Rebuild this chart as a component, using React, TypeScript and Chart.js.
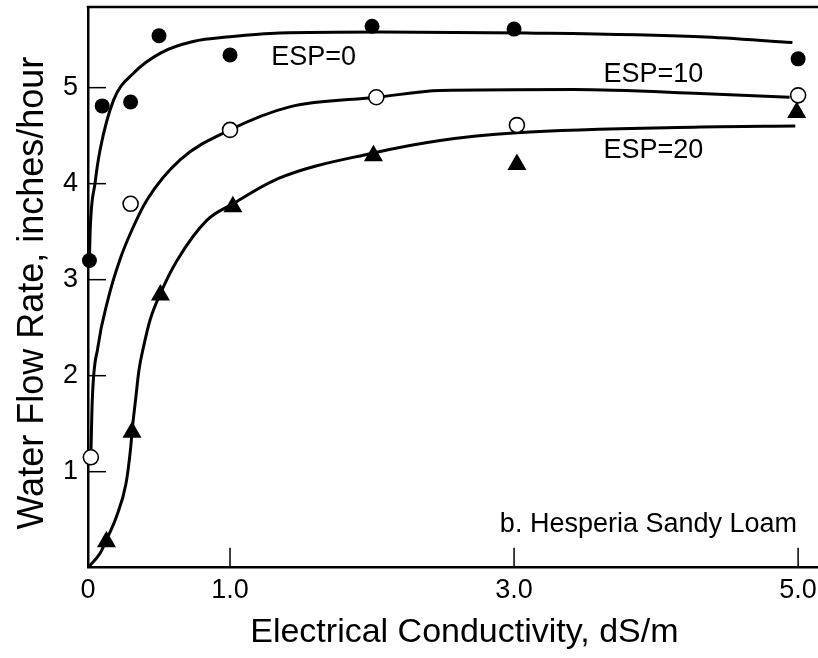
import React, { useEffect, useRef } from 'react';
import { Chart, registerables } from 'chart.js';

Chart.register(...registerables);

// Measured points
const ec0 = [0.01, 0.1, 0.3, 0.5, 1.0, 2.0, 3.0, 5.0];
const flow0 = [3.2, 4.81, 4.85, 5.54, 5.34, 5.64, 5.61, 5.3];
const ec10 = [0.02, 0.3, 1.0, 2.03, 3.02, 5.0];
const flow10 = [1.15, 3.79, 4.56, 4.9, 4.61, 4.92];
const ec20 = [0.13, 0.31, 0.51, 1.02, 2.01, 3.02, 4.99];
const flow20 = [0.27, 1.41, 2.84, 3.76, 4.29, 4.2, 4.74];

// Fitted curves
const fitEc0 = [0.01, 0.015, 0.05, 0.085, 0.18, 0.32, 0.51, 0.74, 1.0, 1.35, 2.06, 3.09, 4.31, 4.96];
const fitFlow0 = [3.2, 3.5, 4.01, 4.35, 4.87, 5.15, 5.36, 5.48, 5.53, 5.57, 5.58, 5.57, 5.53, 5.47];
const fitEc10 = [0.02, 0.03, 0.07, 0.14, 0.225, 0.31, 0.415, 0.65, 1.0, 1.42, 2.04, 2.48, 3.42, 4.31, 4.94];
const fitFlow10 = [1.15, 1.74, 2.3, 2.79, 3.21, 3.52, 3.83, 4.25, 4.56, 4.8, 4.9, 4.97, 4.98, 4.94, 4.9];
const fitEc20 = [0, 0.085, 0.13, 0.2, 0.268, 0.299, 0.313, 0.335, 0.359, 0.391, 0.437, 0.514, 0.627, 0.838, 1.02, 1.35, 2.01, 2.48, 3.02, 4.31, 4.98];
const fitFlow20 = [0, 0.15, 0.29, 0.53, 0.88, 1.23, 1.46, 1.75, 2.06, 2.3, 2.58, 2.87, 3.2, 3.62, 3.79, 4.06, 4.32, 4.45, 4.53, 4.59, 4.6];

// Axes
const xTickValues = [0, 1, 3, 5];
const xTickLabels = ['0', '1.0', '3.0', '5.0'];
const yTickValues = [1, 2, 3, 4, 5];
const yTickLabels = ['1', '2', '3', '4', '5'];
const xMax = 5.14;
const yMax = 5.84;

const xTitle = 'Electrical Conductivity, dS/m';
const yTitle = 'Water Flow Rate, inches/hour';

// Text annotations (anchored in data coordinates)
const annotations = [
  { text: 'ESP=0', x: 1.29, y: 5.24, size: 27 },
  { text: 'ESP=10', x: 3.63, y: 5.06, size: 27 },
  { text: 'ESP=20', x: 3.63, y: 4.27, size: 27 },
  { text: 'b. Hesperia Sandy Loam', x: 2.9, y: 0.37, size: 27 },
];

const FONT = '"Liberation Sans", Arial, Helvetica, sans-serif';

const zip = (xs: number[], ys: number[]) => xs.map((x, i) => ({ x, y: ys[i] }));

const noPad = (s: any) => {
  s.paddingTop = 0;
  s.paddingBottom = 0;
  s.paddingLeft = 0;
  s.paddingRight = 0;
};

const framePlugin = {
  id: 'frame',
  beforeDatasetsDraw(chart: any) {
    const { ctx, chartArea: a, scales } = chart;
    const xs = scales.x;
    const ys = scales.y;
    ctx.save();
    ctx.strokeStyle = '#000';
    ctx.lineWidth = 2.5;
    ctx.beginPath();
    ctx.moveTo(a.left - 1.25, a.top);
    ctx.lineTo(a.right, a.top);
    ctx.stroke();
    ctx.lineWidth = 1.5;
    yTickValues.forEach((v) => {
      const py = ys.getPixelForValue(v);
      ctx.beginPath();
      ctx.moveTo(a.left, py);
      ctx.lineTo(a.left + 18, py);
      ctx.stroke();
    });
    xTickValues
      .filter((v) => v > 0)
      .forEach((v) => {
        const px = xs.getPixelForValue(v);
        ctx.beginPath();
        ctx.moveTo(px, a.bottom);
        ctx.lineTo(px, a.bottom - 20);
        ctx.stroke();
      });
    ctx.restore();
  },
  afterDatasetsDraw(chart: any) {
    const { ctx, scales, chartArea: a } = chart;
    ctx.save();
    ctx.fillStyle = '#000';
    ctx.textAlign = 'left';
    ctx.textBaseline = 'alphabetic';
    annotations.forEach((t) => {
      ctx.font = `${t.size}px ${FONT}`;
      ctx.fillText(t.text, scales.x.getPixelForValue(t.x), scales.y.getPixelForValue(t.y));
    });
    // axis titles
    ctx.textAlign = 'center';
    ctx.font = `34px ${FONT}`;
    ctx.fillText(xTitle, scales.x.getPixelForValue(2.65), a.bottom + 74);
    ctx.save();
    ctx.translate(a.left - 45, scales.y.getPixelForValue(2.86));
    ctx.rotate(-Math.PI / 2);
    ctx.font = `36px ${FONT}`;
    ctx.fillText(yTitle, 0, 0);
    ctx.restore();
    ctx.restore();
  },
};

export default function App() {
  const ref = useRef<HTMLCanvasElement>(null);
  useEffect(() => {
    if (!ref.current) return;
    const curve = (xs: number[], ys: number[]) => ({
      type: 'line' as const,
      data: zip(xs, ys),
      borderColor: '#000',
      borderWidth: 3,
      pointRadius: 0,
      fill: false,
      cubicInterpolationMode: 'monotone' as const,
      order: 2,
    });
    const points = (xs: number[], ys: number[], style: string, r: number, bg: string, bw: number) => ({
      type: 'scatter' as const,
      data: zip(xs, ys),
      pointStyle: style,
      pointRadius: r,
      pointHoverRadius: r,
      pointBackgroundColor: bg,
      pointBorderColor: '#000',
      pointBorderWidth: bw,
      showLine: false,
      clip: false,
      order: 1,
    });
    const chart = new Chart(ref.current, {
      type: 'scatter',
      data: {
        datasets: [
          curve(fitEc0, fitFlow0),
          curve(fitEc10, fitFlow10),
          curve(fitEc20, fitFlow20),
          points(ec0, flow0, 'circle', 7.5, '#000', 0),
          points(ec10, flow10, 'circle', 7.5, '#fff', 1.6),
          points(ec20, flow20, 'triangle', 11, '#000', 0),
        ] as any,
      },
      options: {
        responsive: false,
        animation: false,
        events: [],
        layout: { autoPadding: false, padding: { top: 7, right: 0, left: 0, bottom: 0 } },
        plugins: { legend: { display: false }, tooltip: { enabled: false } },
        scales: {
          x: {
            type: 'linear',
            min: 0,
            max: xMax,
            afterBuildTicks: (s: any) => {
              s.ticks = xTickValues.map((v) => ({ value: v }));
            },
            afterFit: (s: any) => {
              s.height = 90.3;
              noPad(s);
            },
            ticks: {
              color: '#000',
              padding: 7,
              font: { family: FONT, size: 27 },
              maxRotation: 0,
              autoSkip: false,
              callback: (v: any) => {
                const i = xTickValues.indexOf(Number(v));
                return i >= 0 ? xTickLabels[i] : '';
              },
            },
            grid: { display: false, drawTicks: false },
            border: { display: true, color: '#000', width: 2.5 },
            title: { display: false },
          },
          y: {
            type: 'linear',
            min: 0,
            max: yMax,
            afterBuildTicks: (s: any) => {
              s.ticks = yTickValues.map((v) => ({ value: v }));
            },
            afterFit: (s: any) => {
              s.width = 88;
              noPad(s);
            },
            ticks: {
              color: '#000',
              padding: 10,
              font: { family: FONT, size: 27 },
              autoSkip: false,
              callback: (v: any) => {
                const i = yTickValues.indexOf(Number(v));
                return i >= 0 ? yTickLabels[i] : '';
              },
            },
            grid: { display: false, drawTicks: false },
            border: { display: true, color: '#000', width: 2.5 },
            title: { display: false },
          },
        },
      },
      plugins: [framePlugin],
    });
    return () => chart.destroy();
  }, []);
  return (
    <div style={{ position: 'fixed', left: 0, top: 0, width: 818, height: 658, background: '#fff' }}>
      <canvas ref={ref} width={818} height={658} style={{ display: 'block' }} />
    </div>
  );
}
